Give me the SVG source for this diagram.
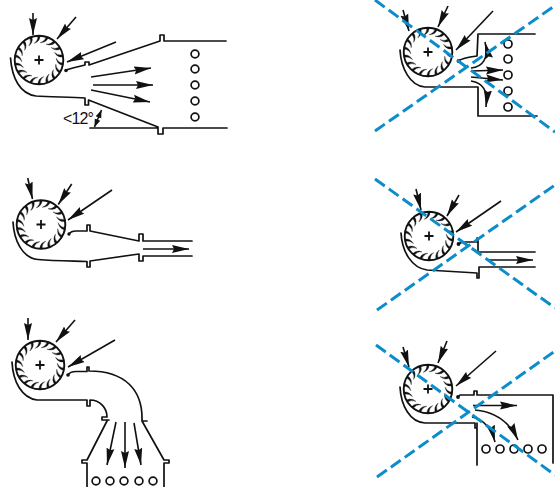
<svg xmlns="http://www.w3.org/2000/svg" xmlns:xlink="http://www.w3.org/1999/xlink" width="555" height="487" viewBox="0 0 555 487">
<style>
.w{fill:none;stroke:#111;stroke-width:1.700;stroke-linecap:round;stroke-linejoin:round}
.a{fill:none;stroke:#111;stroke-width:1.600;marker-end:url(#h)}
.c{fill:#fff;stroke:#111;stroke-width:1.700}
.x{fill:none;stroke:#0b8ccb;stroke-width:3;stroke-dasharray:12 5}
.d{fill:#111}
text{font-family:"Liberation Sans",Arial,sans-serif;font-size:16px;fill:#111}
</style>
<defs>
<marker id="h" markerUnits="userSpaceOnUse" markerWidth="18" markerHeight="9" refX="17" refY="4.500" orient="auto"><path d="M0 0.500L17 4.500L0 8.500L2 4.500Z" fill="#111"/></marker>
<marker id="s" markerUnits="userSpaceOnUse" markerWidth="9" markerHeight="7" refX="8" refY="3.500" orient="auto-start-reverse"><path d="M0 0.500L8 3.500L0 6.500Z" fill="#111"/></marker>
<path id="b" d="M-1.200 -24Q-0.800 -19.500 -4.800 -16.600Q0.800 -18.500 1.200 -24Z" fill="#111" stroke="#111" stroke-width="0.300"/>
<g id="q"><use xlink:href="#b"/><use xlink:href="#b" transform="rotate(20)"/><use xlink:href="#b" transform="rotate(40)"/><use xlink:href="#b" transform="rotate(60)"/><use xlink:href="#b" transform="rotate(80)"/><use xlink:href="#b" transform="rotate(100)"/></g>
<g id="fan"><circle r="24.300" fill="none" stroke="#111" stroke-width="1.900"/><use xlink:href="#q"/><use xlink:href="#q" transform="rotate(120)"/><use xlink:href="#q" transform="rotate(240)"/><path d="M-4.500 0H4.500M0 -4.500V4.500" stroke="#111" stroke-width="1.800"/></g>
</defs>

<g id="fan-a">
<use xlink:href="#fan" transform="translate(39,60)"/>
<path class="w" d="M10.500 58C12 78 20 94 36 96C50 97 70 97 85 98V105H88.500V100L158 127M158 127V134H163V128H227M90 128H158"/>
<path class="w" d="M66 70Q72 68 85 65V62H89V65L160 41V35H164V41H226"/>
<circle class="d" cx="66" cy="70.500" r="1.800"/>
<g class="c"><circle cx="195" cy="54" r="3.900"/><circle cx="195" cy="69" r="3.900"/><circle cx="195" cy="85" r="3.900"/><circle cx="195" cy="101" r="3.900"/><circle cx="195" cy="117" r="3.900"/></g>
<text x="63" y="123.500" textLength="31">&lt;12°</text>
<path d="M101.500 110L94.500 127" fill="none" stroke="#111" stroke-width="1.500" marker-start="url(#s)" marker-end="url(#s)"/>
</g>

<g id="fan-b">
<use xlink:href="#fan" transform="translate(41,224.500)"/>
<path class="w" d="M13 222C14 240 22 258 38 259.500C54 261 72 261 87 261.500V267H90V261L139 254V261H143V256H192"/>
<path class="w" d="M69 234Q71 231 76 231H87V225H90V231L139 241V234H143V241H192"/>
<circle class="d" cx="69" cy="234" r="1.700"/>
</g>

<g id="fan-c">
<use xlink:href="#fan" transform="translate(40,365)"/>
<path class="w" d="M12 362C13 382 22 398 37 400H87V406H90V400C100 400 107 408 107 417H102V420H109M107 421L87 460H82V463H87V487"/>
<path class="w" d="M68 375Q70 371.500 76 371.500H87V367H89V371C125 371 142 390 142 418V421H147M142 421L164 460H169V463H164V487"/>
<circle class="d" cx="68" cy="375" r="1.800"/>
<g class="c"><circle cx="96" cy="481" r="3.900"/><circle cx="110" cy="481" r="3.900"/><circle cx="124" cy="481" r="3.900"/><circle cx="139" cy="481" r="3.900"/><circle cx="153" cy="481" r="3.900"/></g>
</g>

<g id="fan-d">
<use xlink:href="#fan" transform="translate(428,52)"/>
<path class="w" d="M400 50C401 68 410 86 425 87H478V116H537"/>
<path class="w" d="M458 61Q462 58 477 56L478 34H535"/>
<circle class="d" cx="458.500" cy="61" r="1.900"/>
<g class="c"><circle cx="508" cy="44" r="4"/><circle cx="508" cy="59" r="4"/><circle cx="508" cy="75" r="4"/><circle cx="508" cy="91" r="4"/><circle cx="508" cy="107" r="4"/></g>
</g>

<g id="fan-e">
<use xlink:href="#fan" transform="translate(429,236)"/>
<path class="w" d="M401 233C402 252 412 268 427 270L477 273V278H479V267H535"/>
<path class="w" d="M458 244Q461 242 466 242H477V238H478V252H535"/>
<circle class="d" cx="458.500" cy="244" r="1.900"/>
</g>

<g id="fan-f">
<use xlink:href="#fan" transform="translate(428,389)"/>
<path class="w" d="M400 387C401 406 410 422 425 423H475V428H477V423V465"/>
<path class="w" d="M458 397L460 395H474V391H477V395H553V463"/>
<circle class="d" cx="458" cy="397" r="1.900"/>
<g class="c"><circle cx="486" cy="449" r="4"/><circle cx="500" cy="449" r="4"/><circle cx="514" cy="449" r="4"/><circle cx="528" cy="449" r="4"/><circle cx="542" cy="449" r="4"/></g>
</g>

<g id="connectors">
<path class="a" d="M33 13V35"/><path class="a" d="M76 17L57 39"/><path class="a" d="M116 42L67 62"/>
<path class="a" d="M91 77L151 68"/><path class="a" d="M93 85H153"/><path class="a" d="M91 90L150 102"/>
<path class="a" d="M27.700 178L32.500 199"/><path class="a" d="M71.700 184L58.300 204.500"/><path class="a" d="M112 190L68 220"/>
<path class="a" d="M143 249H189"/>
<path class="a" d="M28 318V340"/><path class="a" d="M75 320L56 342"/><path class="a" d="M115 340L68 367"/>
<path class="a" d="M116 422L107 465"/><path class="a" d="M125 422V468"/><path class="a" d="M134 423L141 465"/>
<path class="a" d="M403 10L409 31"/><path class="a" d="M448 6L438 27"/><path class="a" d="M493 11L456 50"/>
<path class="a" d="M471 68C483 67 489 58 485 42"/><path class="a" d="M472 71L503 70"/><path class="a" d="M471 77L503 80"/><path class="a" d="M471 81C483 83 488 90 486 107"/>
<path class="a" d="M416 189L421 210"/><path class="a" d="M459 195L447 216"/><path class="a" d="M501 201L456 232"/>
<path class="a" d="M487 260H533"/>
<path class="a" d="M403 347L409 367"/><path class="a" d="M447 341L438 363"/><path class="a" d="M496 351L456 386"/>
<path class="a" d="M473 405.500H517"/><path class="a" d="M475 410C497 412 510 423 518 440"/><path class="a" d="M472 417C484 419 492 430 495 442"/>
</g>

<g id="crosses">
<path class="x" d="M375 0L555 132"/><path class="x" d="M375 131L553 7"/>
<path class="x" d="M375 179L555 308"/><path class="x" d="M377 310L555 185"/>
<path class="x" d="M376 345L555 475"/><path class="x" d="M377 477L555 351"/>
</g>
</svg>
